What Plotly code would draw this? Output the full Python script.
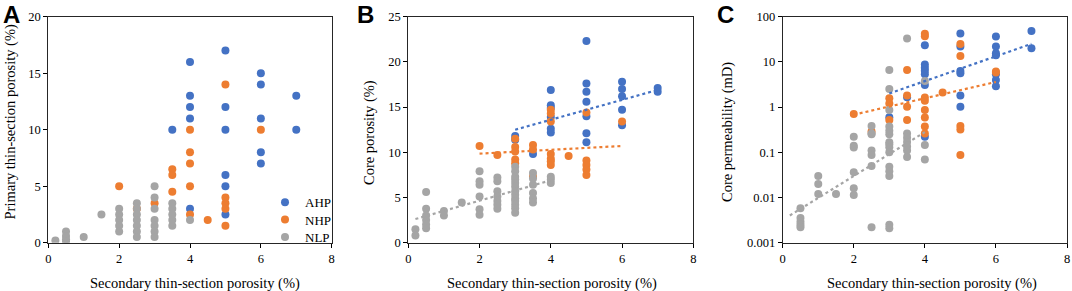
import plotly.graph_objects as go

# ---------------- Panel A data ----------------
A_AHP_x = [3.5, 4, 4, 4, 4, 4, 5, 5, 5, 5, 5, 5, 6, 6, 6, 6, 6, 7, 7]
A_AHP_y = [10, 16, 13, 12, 11, 3, 17, 12, 10, 6, 5, 2.5, 15, 14, 11, 8, 7, 13, 10]
A_NHP_x = [2, 2.5, 3, 3.5, 3.5, 3.5, 4, 4, 4, 4, 4, 4.5, 5, 5, 5, 5, 5, 6]
A_NHP_y = [5, 3, 3.5, 6.5, 6, 4.5, 10, 8, 7, 5, 2.5, 2, 14, 4, 3.5, 3, 1.5, 10]
A_NLP_x = [0.2, 0.5, 0.5, 0.5, 0.5, 1, 1.5,
           2, 2, 2, 2, 2,
           2.5, 2.5, 2.5, 2.5, 2.5, 2.5, 2.5,
           3, 3, 3, 3, 3, 3, 3,
           3.5, 3.5, 3.5, 3.5, 3.5, 4]
A_NLP_y = [0.2, 1.0, 0.6, 0.3, 0.1, 0.5, 2.5,
           3, 2.5, 2, 1.5, 1,
           3.5, 3, 2.5, 2, 1.5, 1, 0.5,
           5, 4, 3, 2, 1.5, 1, 0.5,
           3.5, 3, 2.5, 2, 1.5, 2]

# ---------------- Panel B data ----------------
B_AHP_x = [3, 3, 3.5, 4, 4, 4, 4, 4, 4, 5, 5, 5, 5, 5, 5, 5, 6, 6, 6, 6, 6, 7, 7]
B_AHP_y = [11.8, 11.4, 9.8, 16.9, 15.2, 14.9, 13.9, 12.6, 12.2,
           22.3, 17.6, 16.7, 15.6, 14.0, 12.1, 11.1,
           17.8, 17.0, 16.2, 14.7, 13.0, 17.1, 16.7]
B_NHP_x = [2, 2.5, 3, 3, 3, 3, 3, 3.5, 3.5, 3.5, 4, 4, 4, 4, 4, 4, 4, 4.5, 5, 5, 5, 5, 5, 6]
B_NHP_y = [10.7, 9.7, 11.5, 10.6, 10.1, 9.2, 8.8, 10.8, 10.3, 7.3,
           14.7, 14.3, 13.4, 9.8, 9.3, 9.0, 8.6, 9.6,
           14.4, 9.1, 8.6, 8.1, 7.5, 13.4]
B_NLP_x = [0.2, 0.2, 0.5, 0.5, 0.5, 0.5, 0.5, 0.5, 1, 1, 1.5,
           2, 2, 2, 2, 2, 2,
           2.5, 2.5, 2.5, 2.5, 2.5, 2.5, 2.5,
           3, 3, 3, 3, 3, 3, 3, 3, 3, 3, 3, 3, 3,
           3.5, 3.5, 3.5, 3.5, 3.5, 3.5,
           4, 4, 4]
B_NLP_y = [1.5, 0.8, 5.6, 3.75, 3.0, 2.5, 2.0, 1.6, 3.5, 3.0, 4.45,
           7.9, 6.8, 6.4, 5.1, 3.7, 3.1,
           7.2, 6.8, 5.7, 5.1, 4.6, 4.2, 3.75,
           8.4, 7.9, 7.3, 7.0, 6.6, 6.2, 5.7, 5.3, 4.9, 4.6, 4.2, 3.8, 3.3,
           7.7, 7.1, 6.4, 5.5, 4.9, 4.45,
           7.3, 7.0, 6.6]
B_trend_AHP_x = [3, 7]
B_trend_AHP_y = [12.5, 16.9]
B_trend_NHP_x = [2, 6]
B_trend_NHP_y = [9.85, 10.7]
B_trend_NLP_x = [0.2, 4]
B_trend_NLP_y = [2.62, 6.9]

# ---------------- Panel C data ----------------
C_AHP_x = [3, 3.5, 4, 4, 4, 4, 4, 4, 4, 5, 5, 5, 5, 5, 5, 6, 6, 6, 6, 6, 6, 6, 7, 7]
C_AHP_y = [0.6, 1.65, 23.5, 8.8, 7.4, 6.4, 5.3, 3.1, 0.22,
           42.5, 22, 6.3, 5.6, 1.8, 1.02,
           36.5, 21.8, 15.5, 14, 5.3, 4.0, 2.9, 48, 20]
C_NHP_x = [2, 2.5, 3, 3, 3, 3.5, 3.5, 3.5, 3.5,
           4, 4, 4, 4, 4, 4, 4, 4, 4.5, 5, 5, 5, 5, 5, 6, 6]
C_NHP_y = [0.70, 0.29, 1.56, 1.2, 0.52, 6.6, 1.8, 1.02, 0.52,
           42, 37, 1.64, 1.38, 0.86, 0.59, 0.37, 0.26, 2.1,
           25, 13.5, 0.38, 0.32, 0.087, 6.1, 5.8]
C_NLP_x = [0.5, 0.5, 0.5, 0.5, 0.5, 1, 1, 1, 1.5,
           2, 2, 2, 2, 2, 2,
           2.5, 2.5, 2.5, 2.5, 2.5, 2.5, 2.5,
           3, 3, 3, 3, 3, 3, 3, 3, 3, 3, 3, 3, 3, 3, 3,
           3.5, 3.5, 3.5, 3.5, 3.5, 3.5, 3.5,
           4, 4, 4]
C_NLP_y = [0.0058, 0.0035, 0.0029, 0.0025, 0.0022, 0.030, 0.020, 0.012, 0.012,
           0.22, 0.14, 0.127, 0.036, 0.016, 0.0114,
           0.38, 0.26, 0.11, 0.087, 0.05, 0.25, 0.0022,
           6.6, 2.5, 0.86, 0.37, 0.25, 0.167, 0.15, 0.13, 0.10, 0.048, 0.038, 0.030,
           0.0025, 0.0021, 0.3,
           33, 0.26, 0.21, 0.17, 0.134, 0.11, 0.079,
           3.8, 0.145, 0.069]
C_trend_AHP_x = [3, 7]
C_trend_AHP_y = [2.0, 25]
C_trend_NHP_x = [2, 6]
C_trend_NHP_y = [0.68, 3.6]
C_trend_NLP_x = [0.2, 4]
C_trend_NLP_y = [0.004, 0.28]

x_ticks = [0, 2, 4, 6, 8]
A_y_ticks = [0, 5, 10, 15, 20]
B_y_ticks = [0, 5, 10, 15, 20, 25]
C_y_ticks = [0.001, 0.01, 0.1, 1, 10, 100]
C_y_ticklabels = ["0.001", "0.01", "0.1", "1", "10", "100"]

series_names = ["AHP", "NHP", "NLP"]
colors = {"AHP": "#4472C4", "NHP": "#ED7D31", "NLP": "#A5A5A5"}
legend_ids = {"AHP": "legend", "NHP": "legend2", "NLP": "legend3"}

W, H = 1072, 291
SERIF = "Liberation Serif, Times New Roman, serif"

fig = go.Figure()

def add_points(xs, ys, name, axis_suffix, showlegend):
    fig.add_trace(go.Scatter(
        x=xs, y=ys, mode="markers", name=name,
        marker=dict(color=colors[name], size=8, line=dict(width=0)),
        xaxis="x" + axis_suffix, yaxis="y" + axis_suffix,
        showlegend=showlegend, legend=legend_ids[name]))

def add_trend(xs, ys, name, axis_suffix):
    fig.add_trace(go.Scatter(
        x=xs, y=ys, mode="lines", name=name + " trend",
        line=dict(color=colors[name], width=2.2, dash="dot"),
        xaxis="x" + axis_suffix, yaxis="y" + axis_suffix, showlegend=False))

# Panel A
add_points(A_AHP_x, A_AHP_y, "AHP", "", True)
add_points(A_NHP_x, A_NHP_y, "NHP", "", True)
add_points(A_NLP_x, A_NLP_y, "NLP", "", True)
# Panel B
add_points(B_AHP_x, B_AHP_y, "AHP", "2", False)
add_points(B_NHP_x, B_NHP_y, "NHP", "2", False)
add_points(B_NLP_x, B_NLP_y, "NLP", "2", False)
add_trend(B_trend_AHP_x, B_trend_AHP_y, "AHP", "2")
add_trend(B_trend_NHP_x, B_trend_NHP_y, "NHP", "2")
add_trend(B_trend_NLP_x, B_trend_NLP_y, "NLP", "2")
# Panel C
add_points(C_AHP_x, C_AHP_y, "AHP", "3", False)
add_points(C_NHP_x, C_NHP_y, "NHP", "3", False)
add_points(C_NLP_x, C_NLP_y, "NLP", "3", False)
add_trend(C_trend_AHP_x, C_trend_AHP_y, "AHP", "3")
add_trend(C_trend_NHP_x, C_trend_NHP_y, "NHP", "3")
add_trend(C_trend_NLP_x, C_trend_NLP_y, "NLP", "3")

px = lambda X: X / W
py = lambda Y: 1 - Y / H

ydom = [py(242.7), py(16.7)]
xdoms = [[px(48.3), px(331.7)], [px(408.3), px(693.3)], [px(782.7), px(1067)]]

tickfont = dict(family=SERIF, size=12.5, color="#000")
common_x = dict(range=[0, 8], tickvals=x_ticks, showgrid=False, zeroline=False,
                showline=True, linecolor="#262626", linewidth=1, mirror=True,
                ticks="outside", ticklen=4, tickcolor="#000", tickfont=tickfont,
                fixedrange=True, automargin=False)
common_y = dict(showgrid=False, zeroline=False, showline=True, linecolor="#262626",
                linewidth=1, mirror=True, ticks="outside", ticklen=4,
                tickcolor="#000", tickfont=tickfont, fixedrange=True, automargin=False)

def legend_at(top_y):
    return dict(x=px(265), y=py(top_y), xanchor="left", yanchor="top",
                bgcolor="rgba(0,0,0,0)", font=dict(family=SERIF, size=13))

layout = dict(
    width=W, height=H, autosize=False,
    margin=dict(l=0, r=0, t=0, b=0, pad=0, autoexpand=False),
    paper_bgcolor="white", plot_bgcolor="white",
    font=dict(family=SERIF, color="#000"),
    xaxis=dict(domain=xdoms[0], anchor="y", **common_x),
    yaxis=dict(domain=ydom, anchor="x", range=[0, 20], tickvals=A_y_ticks, **common_y),
    xaxis2=dict(domain=xdoms[1], anchor="y2", **common_x),
    yaxis2=dict(domain=ydom, anchor="x2", range=[0, 25], tickvals=B_y_ticks, **common_y),
    xaxis3=dict(domain=xdoms[2], anchor="y3", **common_x),
    yaxis3=dict(domain=ydom, anchor="x3", type="log", range=[-3, 2],
                tickvals=C_y_ticks, ticktext=C_y_ticklabels, **common_y),
    legend=legend_at(187.3),
    legend2=legend_at(204.6),
    legend3=legend_at(222.0),
    showlegend=True,
)
fig.update_layout(**layout)

annotations = []
xtitle = "Secondary thin-section porosity (%)"
for cx in [195, 552, 932]:
    annotations.append(dict(text=xtitle, x=px(cx), y=py(283), xref="paper", yref="paper",
                            showarrow=False, xanchor="center", yanchor="middle",
                            font=dict(family=SERIF, size=14.5)))
ytitles = [("Primary thin-section porosity (%)", 9.5, 122),
           ("Core porosity (%)", 370, 133),
           ("Core permeability (mD)", 728, 132)]
for t, cx, cy in ytitles:
    annotations.append(dict(text=t, x=px(cx), y=py(cy), xref="paper", yref="paper",
                            showarrow=False, textangle=-90, xanchor="center",
                            yanchor="middle", font=dict(family=SERIF, size=14.5)))
for letter, lx in [("A", 1), ("B", 355), ("C", 715)]:
    annotations.append(dict(text="<b>%s</b>" % letter, x=px(lx), y=py(-1), xref="paper",
                            yref="paper", showarrow=False, xanchor="left", yanchor="top",
                            font=dict(family="Liberation Sans, Arial, sans-serif", size=24)))
fig.update_layout(annotations=annotations)

fig.write_html("out.html", config={"displayModeBar": False, "staticPlot": True},
               post_script="document.body.style.margin='0';")
